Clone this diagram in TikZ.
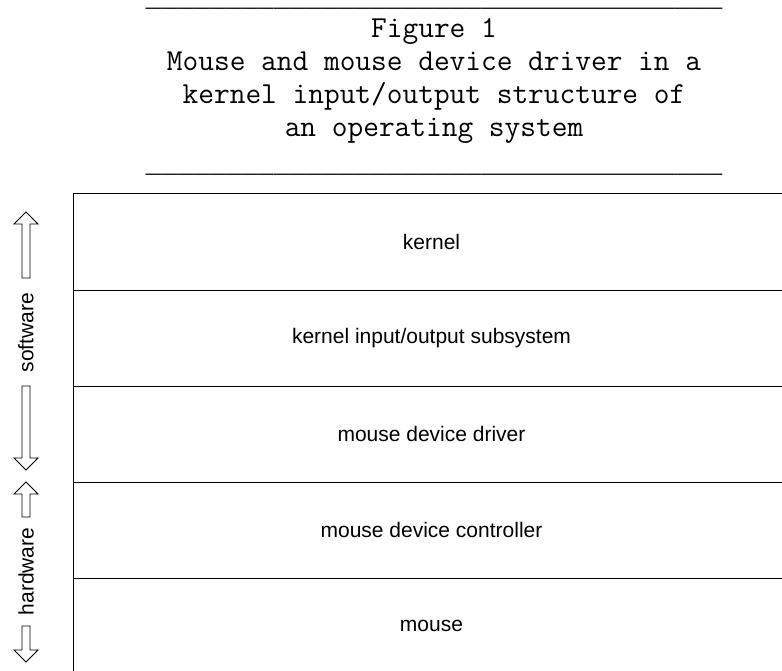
\documentclass[tikz,border=0pt]{standalone}
\usepackage{fontspec}
\setmainfont{Liberation Sans}
\newfontfamily\rulefont{Liberation Mono}
\newcommand\blockup[3]{% x, tip y, shaft bottom y
  \draw[blockarrow] (#1,#2) -- ++(12,12) -- ++(-8,0) -- (#1+4,#3) -- (#1-4,#3) -- (#1-4,#2+12) -- ++(-8,0) -- cycle;}
\newcommand\blockdown[3]{% x, tip y, shaft top y
  \draw[blockarrow] (#1,#2) -- ++(12,-12) -- ++(-8,0) -- (#1+4,#3) -- (#1-4,#3) -- (#1-4,#2-12) -- ++(-8,0) -- cycle;}
\begin{document}
\begin{tikzpicture}[x=1pt,y=-1pt,
  layer/.style={draw=black, line width=1pt, minimum width=717pt, minimum height=96pt, inner sep=0pt, font=\fontsize{21}{25}\selectfont},
  ttl/.style={font=\ttfamily\fontsize{30.5}{33}\selectfont, anchor=base, inner sep=0pt},
  ttlrule/.style={font=\rulefont\fontsize{26.7}{33}\selectfont, anchor=base, inner sep=0pt},
  blockarrow/.style={draw=black, line width=0.9pt, fill=white, line join=miter},
  side/.style={rotate=90, font=\fontsize{21}{25}\selectfont, inner sep=0pt}]
\useasboundingbox (0,0) rectangle (782,671);
\clip (0,0) rectangle (782,671);
% title block
\node[ttlrule] (rule1) at (434,6.5)   {\_\_\_\_\_\_\_\_\_\_\_\_\_\_\_\_\_\_\_\_\_\_\_\_\_\_\_\_\_\_\_\_\_\_\_\_};
\node[ttl] (fig)   at (434,38)  {Figure 1};
\node[ttl] (t1)    at (434,71)  {Mouse and mouse device driver in a};
\node[ttl] (t2)    at (434,104) {kernel input/output structure of};
\node[ttl] (t3)    at (434,137) {an operating system};
\node[ttlrule] (rule2) at (434,172.5) {\_\_\_\_\_\_\_\_\_\_\_\_\_\_\_\_\_\_\_\_\_\_\_\_\_\_\_\_\_\_\_\_\_\_\_\_};
% layers
\node[layer] (kernel)  at (431.5,242) {kernel};
\node[layer] (kio)     at (431.5,338) {kernel input/output subsystem};
\node[layer] (driver)  at (431.5,434) {mouse device driver};
\node[layer] (ctrl)    at (431.5,530) {mouse device controller};
\node[layer] (mouse)   at (431.5,626) {mouse};
% side labels
\blockup{26}{212}{278}
\node[side] (sw) at (26,332.5) {software};
\blockdown{26}{470}{386}
\blockup{26}{482}{517}
\node[side] (hw) at (26,571.5) {hardware};
\blockdown{26}{662}{626}
\end{tikzpicture}
\end{document}
